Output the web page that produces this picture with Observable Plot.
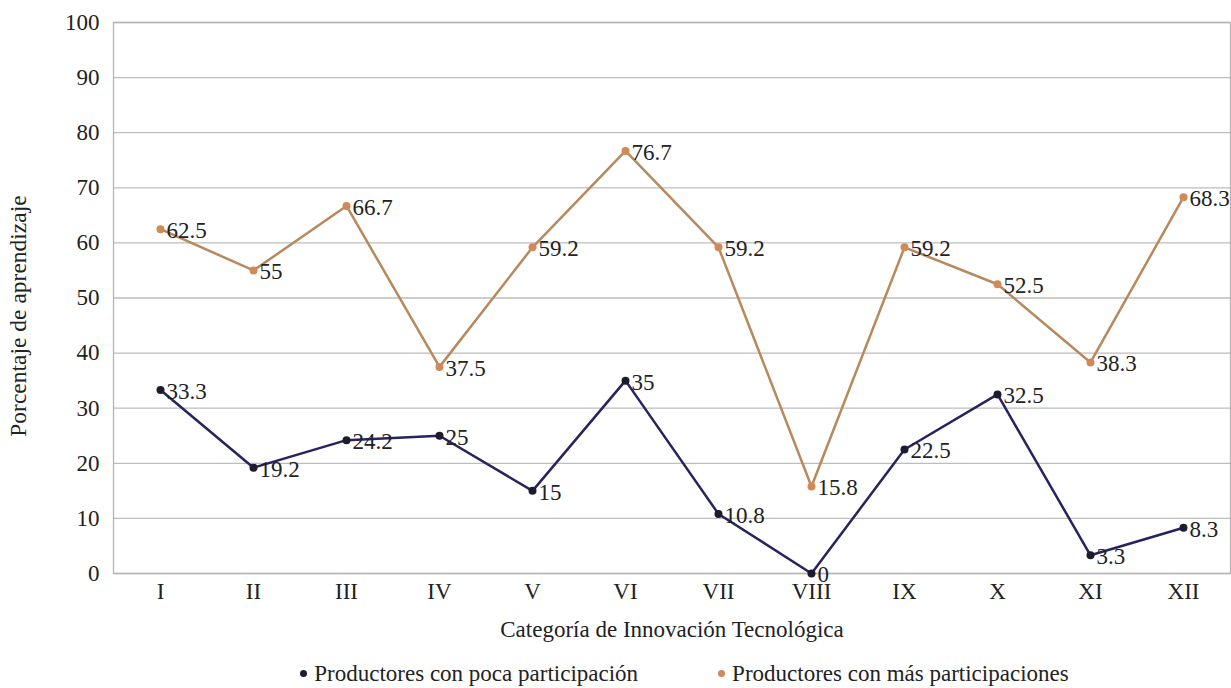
<!DOCTYPE html>
<html>
<head>
<meta charset="utf-8">
<script src="https://cdn.jsdelivr.net/npm/d3@7"></script>
<script src="https://cdn.jsdelivr.net/npm/@observablehq/plot@0.6"></script>
<style>
  body { margin: 0; background: #fff; font-family: 'Liberation Serif', 'DejaVu Serif', serif; }
  #chart svg { display: block; }
  .legend { display: flex; justify-content: center; gap: 80px; font-size: 23px; color: #222; margin-top: 11px; padding-left: 138px; }
  .legend span.sw { display: inline-block; width: 7px; height: 7px; border-radius: 50%; margin-right: 7px; vertical-align: middle; position: relative; top: -2px; }
</style>
</head>
<body>
<div id="chart"></div>
<div class="legend">
  <div><span class="sw" style="background:#1c1c2e"></span>Productores con poca participación</div>
  <div><span class="sw" style="background:#d08a58"></span>Productores con más participaciones</div>
</div>
<script>
const categories = ["I","II","III","IV","V","VI","VII","VIII","IX","X","XI","XII"];
const poca = [33.3, 19.2, 24.2, 25, 15, 35, 10.8, 0, 22.5, 32.5, 3.3, 8.3];
const mas = [62.5, 55, 66.7, 37.5, 59.2, 76.7, 59.2, 15.8, 59.2, 52.5, 38.3, 68.3];
const yTicks = [0,10,20,30,40,50,60,70,80,90,100];

const dPoca = categories.map((c, i) => ({cat: c, v: poca[i]}));
const dMas = categories.map((c, i) => ({cat: c, v: mas[i]}));

const chart = Plot.plot({
  width: 1231,
  height: 650,
  marginTop: 22,
  marginBottom: 77,
  marginLeft: 113,
  marginRight: 1,
  style: { fontFamily: "'Liberation Serif', 'DejaVu Serif', serif", fontSize: "22px", color: "#222", background: "#fff" },
  x: { type: "point", domain: categories, padding: 0.5, label: null },
  y: { domain: [0, 100], label: null },
  marks: [
    Plot.ruleY(yTicks, { stroke: "#bdbdbd", strokeWidth: 1.3 }),
    Plot.frame({ stroke: "#b5b5b5", strokeWidth: 1.3 }),
    Plot.axisY({ ticks: yTicks, tickSize: 0, tickPadding: 14, fontSize: 23, label: null }),
    Plot.axisX({ tickSize: 0, tickPadding: 9, fontSize: 23, label: null }),
    Plot.text(["Porcentaje de aprendizaje"], { frameAnchor: "left", textAnchor: "middle", rotate: -90, dx: -95, dy: 18, fontSize: 23.5 }),
    Plot.text(["Categoría de Innovación Tecnológica"], { frameAnchor: "bottom", dy: 63, fontSize: 23 }),
    Plot.line(dMas, { x: "cat", y: "v", stroke: "#b8895c", strokeWidth: 2.5 }),
    Plot.line(dPoca, { x: "cat", y: "v", stroke: "#27235e", strokeWidth: 2.5 }),
    Plot.dot(dMas, { x: "cat", y: "v", fill: "#d08a58", r: 4 }),
    Plot.dot(dPoca, { x: "cat", y: "v", fill: "#1c1c2e", r: 4 }),
    Plot.text(dMas, { x: "cat", y: "v", text: d => String(d.v), textAnchor: "start", dx: 6, dy: 1.5, fontSize: 23, fill: "#222" }),
    Plot.text(dPoca, { x: "cat", y: "v", text: d => String(d.v), textAnchor: "start", dx: 6, dy: 1.5, fontSize: 23, fill: "#222" })
  ]
});
document.getElementById("chart").append(chart);
</script>
</body>
</html>
